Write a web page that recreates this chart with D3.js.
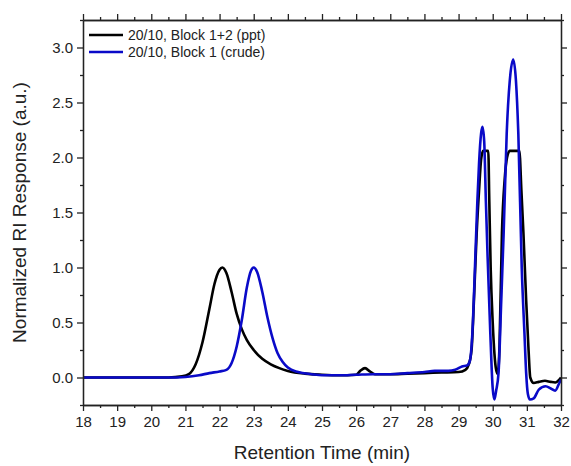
<!DOCTYPE html>
<html>
<head>
<meta charset="utf-8">
<script src="https://cdn.jsdelivr.net/npm/d3@7"></script>
<style>
  body { margin: 0; background: #fff; }
  text { font-family: "Liberation Sans", Arial, sans-serif; fill: #222; }
</style>
</head>
<body>
<svg width="571" height="466"></svg>
<script>
// retention time (min), normalized RI response
const pptTime = [18, 20.5, 20.9, 21.1, 21.3, 21.5, 21.7, 21.85, 22.0, 22.08, 22.2, 22.35, 22.5, 22.65, 22.8, 23.0, 23.25, 23.5, 23.75, 24.0, 24.5, 25.0, 25.5, 26.0, 26.12, 26.26, 26.4, 26.55, 27.0, 27.5, 28.0, 28.5, 29.0, 29.2, 29.3, 29.38, 29.45, 29.53, 29.6, 29.66, 29.72, 29.87, 29.9, 29.94, 30.0, 30.05, 30.1, 30.15, 30.2, 30.27, 30.35, 30.42, 30.5, 30.78, 30.84, 30.9, 30.98, 31.05, 31.1, 31.2, 31.35, 31.53, 31.7, 31.83, 32];
const pptValue = [0, 0, 0.01, 0.03, 0.12, 0.32, 0.62, 0.85, 0.98, 1.0, 0.95, 0.78, 0.58, 0.44, 0.34, 0.25, 0.17, 0.12, 0.085, 0.06, 0.035, 0.025, 0.02, 0.025, 0.06, 0.085, 0.055, 0.03, 0.03, 0.035, 0.04, 0.045, 0.05, 0.07, 0.12, 0.25, 0.7, 1.31, 1.7, 1.98, 2.06, 2.06, 1.6, 1.0, 0.5, 0.22, 0.07, 0.03, 0.3, 1.31, 1.8, 2.0, 2.06, 2.06, 1.7, 1.31, 0.7, 0.25, 0.0, -0.05, -0.04, -0.03, -0.04, -0.045, 0.0];

const crudeTime = [18, 20.5, 21.0, 21.4, 21.7, 22.0, 22.2, 22.35, 22.5, 22.65, 22.8, 22.92, 23.0, 23.1, 23.25, 23.4, 23.55, 23.7, 23.85, 24.0, 24.3, 24.7, 25.0, 25.5, 26.0, 26.5, 27.0, 27.5, 28.0, 28.3, 28.7, 28.9, 29.1, 29.25, 29.33, 29.42, 29.48, 29.55, 29.6, 29.66, 29.7, 29.75, 29.8, 29.85, 29.93, 30.0, 30.05, 30.1, 30.17, 30.25, 30.32, 30.41, 30.5, 30.6, 30.68, 30.75, 30.85, 30.93, 30.98, 31.03, 31.09, 31.2, 31.35, 31.55, 31.7, 31.83, 31.95, 32];
const crudeValue = [0, 0, 0.005, 0.02, 0.04, 0.055, 0.07, 0.13, 0.28, 0.52, 0.82, 0.97, 1.0, 0.96, 0.78, 0.55, 0.36, 0.22, 0.14, 0.09, 0.05, 0.03, 0.02, 0.02, 0.025, 0.03, 0.03, 0.04, 0.05, 0.06, 0.06, 0.07, 0.1, 0.11, 0.15, 0.5, 1.0, 1.6, 1.95, 2.22, 2.28, 2.15, 1.6, 1.1, 0.4, -0.1, -0.2, -0.12, 0.04, 0.7, 1.31, 2.22, 2.7, 2.89, 2.7, 2.22, 1.0, 0.4, 0.04, -0.15, -0.2, -0.19, -0.11, -0.08, -0.1, -0.12, -0.05, -0.02];

const seriesNames = ["20/10, Block 1+2 (ppt)", "20/10, Block 1 (crude)"];
const seriesColors = ["#000000", "#0a0ac8"];
const xTicks = d3.range(18, 33, 1);
const yTicks = [0.0, 0.5, 1.0, 1.5, 2.0, 2.5, 3.0];

const svg = d3.select("svg");
const mLeft = 83, mRight = 561, mTop = 20, mBottom = 405;

const x = d3.scaleLinear().domain([18, 32]).range([mLeft, mRight]);
const y = d3.scaleLinear().domain([-0.25, 3.25]).range([mBottom, mTop]);

const series = [
  pptTime.map((t, i) => [t, pptValue[i]]),
  crudeTime.map((t, i) => [t, crudeValue[i]])
];

// clip to frame
svg.append("clipPath").attr("id", "clip")
  .append("rect").attr("x", mLeft).attr("y", mTop)
  .attr("width", mRight - mLeft).attr("height", mBottom - mTop);

const line = d3.line()
  .x(d => x(d[0]))
  .y(d => y(d[1]))
  .curve(d3.curveMonotoneX);

const g = svg.append("g").attr("clip-path", "url(#clip)");
series.forEach((s, i) => {
  g.append("path").datum(s)
    .attr("d", line).attr("fill", "none")
    .attr("stroke", seriesColors[i]).attr("stroke-width", 2.6)
    .attr("stroke-linejoin", "round");
});

// axes
const xMinor = d3.range(18.5, 32, 1);
const yMinor = d3.range(-0.25, 3.3, 0.5);

function styleAxis(sel) {
  sel.selectAll("path").attr("stroke", "#222").attr("stroke-width", 1.3);
  sel.selectAll("line").attr("stroke", "#222").attr("stroke-width", 1.3);
  sel.selectAll("text").style("font-size", "15px").attr("fill", "#222");
}

svg.append("g").attr("transform", `translate(0,${mBottom})`)
  .call(d3.axisBottom(x).tickValues(xTicks).tickFormat(d3.format("d")).tickSize(6).tickSizeOuter(0).tickPadding(5))
  .call(styleAxis);
svg.append("g").attr("transform", `translate(0,${mBottom})`)
  .call(d3.axisBottom(x).tickValues(xMinor).tickFormat("").tickSize(3).tickSizeOuter(0))
  .call(styleAxis);

svg.append("g").attr("transform", `translate(0,${mTop})`)
  .call(d3.axisTop(x).tickValues(xTicks).tickFormat("").tickSize(6).tickSizeOuter(0))
  .call(styleAxis);
svg.append("g").attr("transform", `translate(0,${mTop})`)
  .call(d3.axisTop(x).tickValues(xMinor).tickFormat("").tickSize(3).tickSizeOuter(0))
  .call(styleAxis);

svg.append("g").attr("transform", `translate(${mLeft},0)`)
  .call(d3.axisLeft(y).tickValues(yTicks).tickFormat(d3.format(".1f")).tickSize(6).tickSizeOuter(0).tickPadding(4))
  .call(styleAxis);
svg.append("g").attr("transform", `translate(${mLeft},0)`)
  .call(d3.axisLeft(y).tickValues(yMinor).tickFormat("").tickSize(3).tickSizeOuter(0))
  .call(styleAxis);

svg.append("g").attr("transform", `translate(${mRight},0)`)
  .call(d3.axisRight(y).tickValues(yTicks).tickFormat("").tickSize(6).tickSizeOuter(0))
  .call(styleAxis);
svg.append("g").attr("transform", `translate(${mRight},0)`)
  .call(d3.axisRight(y).tickValues(yMinor).tickFormat("").tickSize(3).tickSizeOuter(0))
  .call(styleAxis);

// axis titles
svg.append("text")
  .attr("x", (mLeft + mRight) / 2).attr("y", 459)
  .attr("text-anchor", "middle").style("font-size", "19px")
  .text("Retention Time (min)");

svg.append("text")
  .attr("transform", `translate(26,${(mTop + mBottom) / 2}) rotate(-90)`)
  .attr("text-anchor", "middle").style("font-size", "19px")
  .text("Normalized RI Response (a.u.)");

// legend
const legend = svg.append("g");
seriesNames.forEach((name, i) => {
  const ly = 35 + i * 17;
  legend.append("line")
    .attr("x1", 89).attr("x2", 123).attr("y1", ly).attr("y2", ly)
    .attr("stroke", seriesColors[i]).attr("stroke-width", 2.6);
  legend.append("text")
    .attr("x", 128).attr("y", ly + 5)
    .style("font-size", "14px")
    .text(name);
});
</script>
</body>
</html>
